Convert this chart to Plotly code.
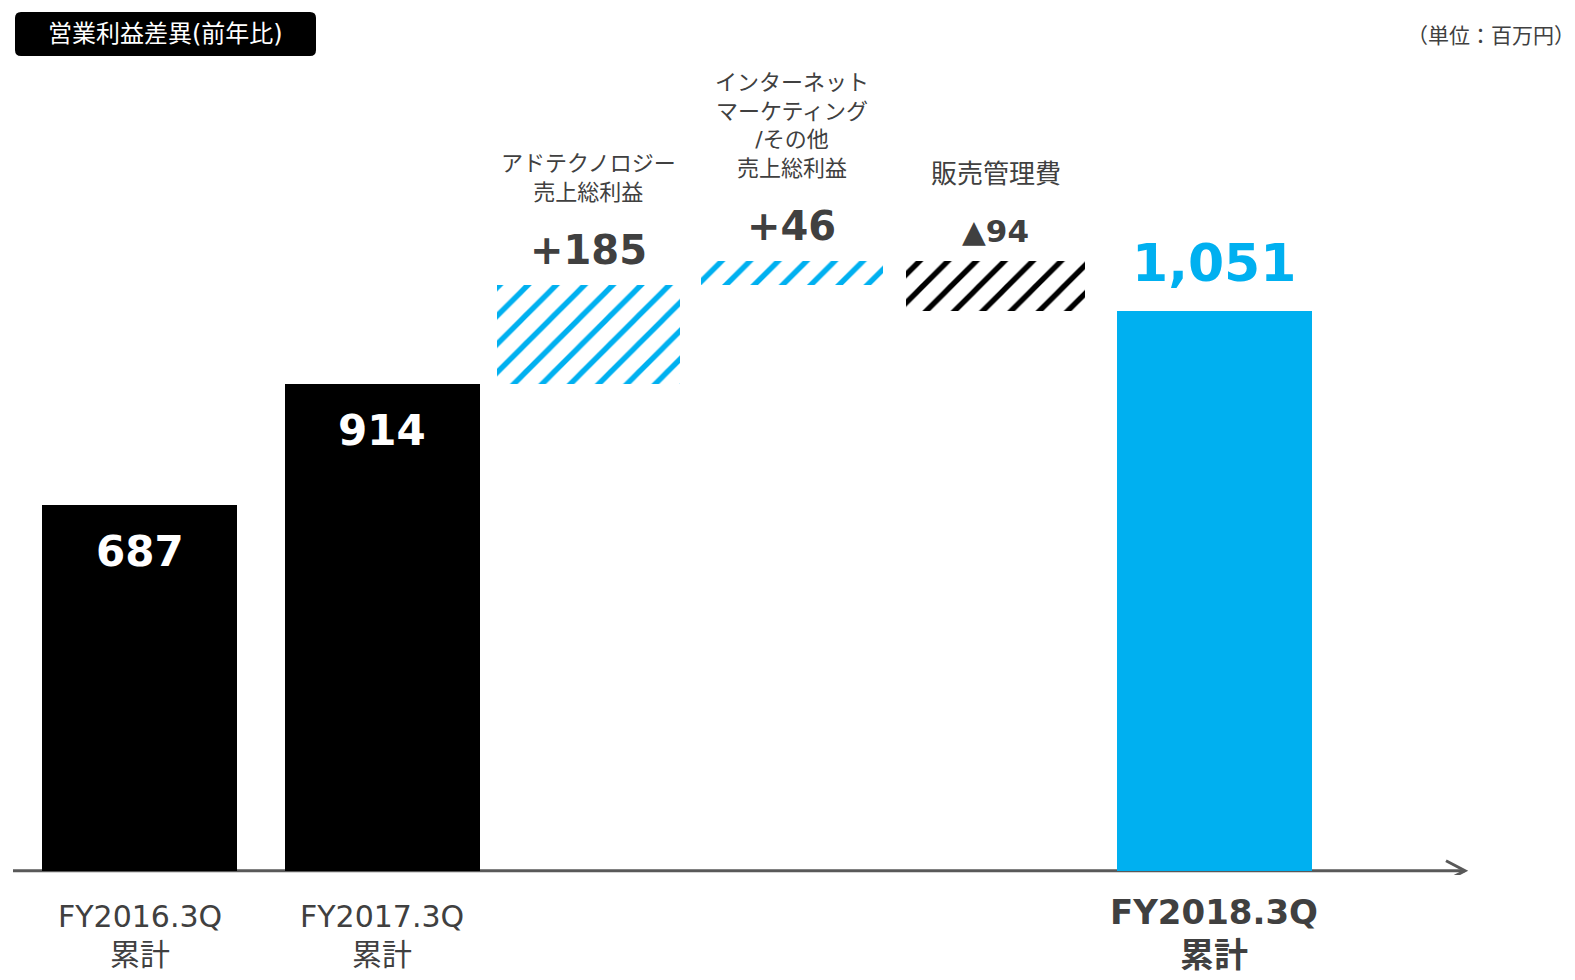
import plotly.graph_objects as go

# ---- data ----
categories = ["FY2016.3Q累計", "FY2017.3Q累計", "アドテクノロジー売上総利益",
              "インターネットマーケティング/その他売上総利益", "販売管理費", "FY2018.3Q累計"]
bottom_line1 = ["FY2016.3Q", "FY2017.3Q", "", "", "", "FY2018.3Q"]
bottom_line2 = ["累計", "累計", "", "", "", "累計"]
top_labels = ["", "", "アドテクノロジー<br>売上総利益",
              "インターネット<br>マーケティング<br>/その他<br>売上総利益", "販売管理費", ""]
values = [687, 914, 185, 46, -94, 1051]
kinds = ["total", "total", "delta", "delta", "delta", "total"]

BLUE = "#00B0F0"
GRAY = "#404040"
FONT = "DejaVu Sans, Noto Sans CJK JP, sans-serif"

# style: bar widths (category units) and horizontal nudges (px)
widths = [0.91, 0.91, 0.855, 0.85, 0.836, 0.91]
nudge_px = [1, 29, 21, 10, 0, 4]
PX_PER_CAT = 214.2

# compute bases / heights for a waterfall from the values
bases, heights = [], []
running = 0
for v, k in zip(values, kinds):
    if k == "total":
        bases.append(0)
        heights.append(v)
        running = v
    else:
        bases.append(running)
        heights.append(v)
        running += v

colors = ["#000000", "#000000", BLUE, BLUE, "#000000", BLUE]
bgs = ["#FFFFFF"] * 6
shapes_pat = ["", "", "/", "/", "/", ""]
offsets = [-w / 2 + n / PX_PER_CAT for w, n in zip(widths, nudge_px)]

fig = go.Figure()
fig.add_trace(go.Bar(
    x=categories, y=heights, base=bases, width=widths, offset=offsets,
    marker=dict(color=colors, line=dict(width=0),
                pattern=dict(shape=shapes_pat, bgcolor=bgs, fillmode="replace",
                             size=20, solidity=0.27, fgopacity=1)),
    hoverinfo="skip", showlegend=False,
))

annotations = []
for i, (c, v, k, b) in enumerate(zip(categories, values, kinds, bases)):
    xs = nudge_px[i]
    if k == "total":
        if i < 2:
            annotations.append(dict(x=c, y=v, text=f"<b>{v:,}</b>", showarrow=False,
                                    yanchor="top", yshift=-20, xshift=xs,
                                    font=dict(size=42, color="#FFFFFF", family=FONT)))
        else:
            annotations.append(dict(x=c, y=v, text=f"<b>{v:,}</b>", showarrow=False,
                                    yanchor="bottom", yshift=16, xshift=xs,
                                    font=dict(size=52, color=BLUE, family=FONT)))
    else:
        top = max(b, b + v)
        txt = f"+{v}" if v > 0 else f"▲{abs(v)}"
        size = 40 if v > 0 else 31
        annotations.append(dict(x=c, y=top, text=f"<b>{txt}</b>", showarrow=False,
                                yanchor="bottom", yshift=10, xshift=xs,
                                font=dict(size=size, color=GRAY, family=FONT)))
        annotations.append(dict(x=c, y=top, text=top_labels[i], showarrow=False,
                                yanchor="bottom", yshift=78 if v > 0 else 70, xshift=xs,
                                font=dict(size=22 if v > 0 else 26, color=GRAY, family=FONT)))
    if bottom_line1[i]:
        big = i == 5
        t1 = f"<b>{bottom_line1[i]}</b>" if big else bottom_line1[i]
        t2 = f"<b>{bottom_line2[i]}</b>" if big else bottom_line2[i]
        sz = 34 if big else 30
        annotations.append(dict(x=c, y=0, text=t1, showarrow=False, xshift=xs,
                                yanchor="middle", yshift=-41 if big else -46,
                                font=dict(size=sz, color=GRAY, family=FONT)))
        annotations.append(dict(x=c, y=0, text=t2, showarrow=False, xshift=xs,
                                yanchor="middle", yshift=-84,
                                font=dict(size=sz, color=GRAY, family=FONT)))

PLOT_H = 867
# title + unit
annotations.append(dict(xref="paper", yref="paper", x=0.1047, y=1 - 26 / PLOT_H,
                        text="営業利益差異(前年比)", showarrow=False,
                        xanchor="center", yanchor="middle",
                        font=dict(size=24, color="#FFFFFF", family=FONT)))
annotations.append(dict(xref="paper", yref="paper", x=(1569 - 5) / 1452, y=1 - 28 / PLOT_H,
                        text="（単位：百万円）", showarrow=False,
                        xanchor="right", yanchor="middle",
                        font=dict(size=21, color=GRAY, family=FONT)))

shapes = [
    # title box (rounded)
    dict(type="path", xref="paper", yref="paper", xsizemode="pixel", ysizemode="pixel",
         xanchor=0, yanchor=1,
         path="M 8,-4 L 297,-4 Q 303,-4 303,-10 L 303,-42 Q 303,-48 297,-48 "
              "L 8,-48 Q 2,-48 2,-42 L 2,-10 Q 2,-4 8,-4 Z",
         fillcolor="#000000", line=dict(width=0), layer="above"),
    # axis line
    dict(type="line", xref="paper", yref="y", x0=0, x1=1, y0=0, y1=0,
         line=dict(color="#595959", width=3), layer="below"),
    # arrow head
    dict(type="path", xref="paper", yref="y", xsizemode="pixel", ysizemode="pixel",
         xanchor=1, yanchor=0, path="M -19,10 L 0,0 L -19,-10",
         line=dict(color="#595959", width=3)),
]

fig.update_layout(
    width=1567, height=972,
    margin=dict(l=5, r=110, t=0, b=105),
    paper_bgcolor="#FFFFFF", plot_bgcolor="#FFFFFF",
    xaxis=dict(type="category", range=[-0.588, 6.19], showticklabels=False,
               showgrid=False, zeroline=False, showline=False, ticks=""),
    yaxis=dict(range=[-8, 1619], visible=False, showgrid=False, zeroline=False),
    annotations=annotations, shapes=shapes, bargap=0,
    font=dict(family=FONT),
)

fig.write_html("out.html")
